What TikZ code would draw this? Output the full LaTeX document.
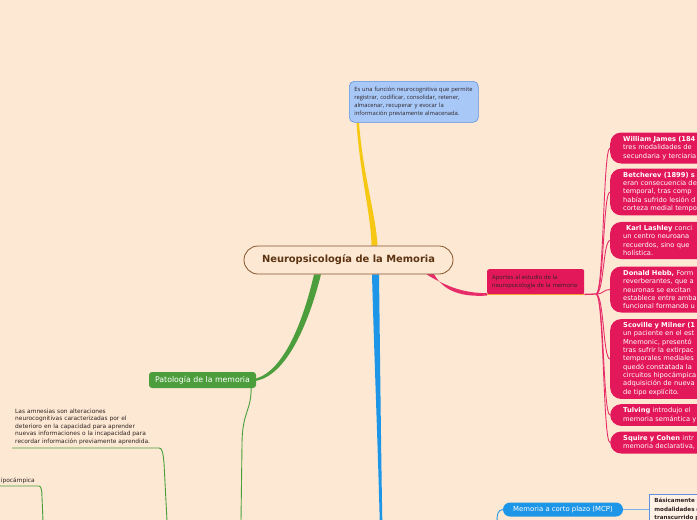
\documentclass[tikz,border=0pt]{standalone}
\usepackage{fontspec}
\setmainfont{DejaVu Sans}
\newfontfamily\osans{Open Sans}
\usetikzlibrary{calc}
\pgfdeclarelayer{bglayer}
\pgfdeclarelayer{connlayer}
\pgfsetlayers{bglayer,connlayer,main}
\definecolor{bg}{RGB}{253,232,211}
\definecolor{brownc}{RGB}{132,84,42}
\definecolor{browntext}{RGB}{92,52,18}
\definecolor{pinkc}{RGB}{226,24,91}
\definecolor{pinkl}{RGB}{230,45,105}
\definecolor{bluebox}{RGB}{168,200,248}
\definecolor{blueedge}{RGB}{95,145,225}
\definecolor{yellowc}{RGB}{246,200,20}
\definecolor{greenc}{RGB}{76,158,60}
\definecolor{greenl}{RGB}{72,160,58}
\definecolor{bluec}{RGB}{30,150,232}
\definecolor{bluelight}{RGB}{120,180,235}
\definecolor{orangec}{RGB}{242,160,40}
\definecolor{darktext}{RGB}{45,35,35}
\tikzset{
  rbox/.style={fill=pinkc, rounded corners=11pt, anchor=west, text width=150pt,
    inner xsep=13pt, inner ysep=3.5pt, align=left, text=white,
    font=\fontsize{6.7}{8.3}\selectfont},
  pinkconn/.style={pinkl, line width=0.9pt},
  greenconn/.style={greenl, line width=0.9pt},
}
\begin{document}
\begin{tikzpicture}[x=1pt,y=-1pt]
\begin{pgfonlayer}{bglayer}
\fill[bg] (0,0) rectangle (697,520);
\end{pgfonlayer}
\useasboundingbox (0,0) rectangle (697,520);

% nodes
\node[draw=brownc, line width=0.8pt, fill=bg, rounded corners=14pt,
  minimum width=209pt, minimum height=28pt, inner sep=0,
  font=\fontsize{9.9}{11}\selectfont\bfseries, text=browntext] (root) at (348.5,260) {Neuropsicología de la Memoria};

\node[anchor=north west, draw=blueedge, line width=0.6pt, fill=bluebox, rounded corners=5pt,
  minimum width=129pt, minimum height=41pt, text width=119pt, inner xsep=5pt,
  align=left, font=\osans\fontsize{5.8}{8}\selectfont, text=darktext] (def) at (349,81)
  {\mbox{Es una función neurocognitiva que permite}\\\mbox{registrar, codificar, consolidar, retener,}\\\mbox{almacenar, recuperar y evocar la}\\\mbox{información previamente almacenada.}};

\node[anchor=north west, fill=pinkc, rounded corners=2pt, minimum width=97pt,
  minimum height=25pt, text width=87pt, inner xsep=5pt, align=left,
  font=\osans\fontsize{5.8}{8}\selectfont, text=darktext] (ap) at (487,269)
  {\mbox{Aportes al estudio de la}\\\mbox{neuropsicología de la memoria}};

\node[fill=greenc, rounded corners=3pt, minimum width=107pt, minimum height=16pt,
  inner sep=0, font=\fontsize{7.8}{9}\selectfont, text=white] (pat) at (202.5,380) {Patología de la memoria};

\node[fill=bluec, rounded corners=7pt, minimum width=120pt, minimum height=14pt,
  inner sep=0, font=\fontsize{6.9}{8}\selectfont, text=white] (mcp) at (563,509.5) {Memoria a corto plazo (MCP)};

\node[anchor=north west, draw=blueedge, line width=0.7pt, fill=bg!60!white,
  text width=70pt, inner xsep=5pt, inner ysep=4pt, align=left,
  font=\fontsize{5.6}{8.5}\selectfont\bfseries, text=darktext] (mcpd) at (649,494)
  {Básicamente p\\modalidades d\\transcurrido p\\\mbox{}};

\node[anchor=south west, text width=150pt, inner xsep=3pt, inner ysep=3pt, align=left,
  font=\fontsize{5.9}{7.6}\selectfont, text=darktext] (amn) at (12,448)
  {\mbox{Las amnesias son alteraciones}\\\mbox{neurocognitivas caracterizadas por el}\\\mbox{deterioro en la capacidad para aprender}\\\mbox{nuevas informaciones o la incapacidad para}\\\mbox{recordar información previamente aprendida.}};

\node[anchor=south east, inner xsep=4pt, inner ysep=2.5pt,
  font=\fontsize{5.9}{7.6}\selectfont, text=darktext] (hip) at (39,486) {ipocámpica};

% right pink boxes
\node[rbox, minimum height=31pt] (b1) at (610,148)
  {\textbf{William James (184}\\tres modalidades de\\secundaria y terciaria};
\node[rbox, minimum height=46pt] (b2) at (610,192)
  {\textbf{Betcherev (1899) s}\\eran consecuencia de\\temporal, tras comp\\había sufrido lesión d\\corteza medial tempo};
\node[rbox, minimum height=36pt] (b3) at (610,240.5)
  {\hspace*{3pt}\textbf{Karl Lashley} conci\\un centro neuroana\\recuerdos, sino que\\holística.};
\node[rbox, minimum height=46pt] (b4) at (610,289.5)
  {\textbf{Donald Hebb,} Form\\reverberantes, que a\\neuronas se excitan\\establece entre amba\\funcional formando u};
\node[rbox, minimum height=78pt] (b5) at (610,359)
  {\textbf{Scoville y Milner (1}\\un paciente en el est\\Mnemonic, presentó\\tras sufrir la extirpac\\temporales mediales\\quedó constatada la\\circuitos hipocámpica\\adquisición de nueva\\de tipo explícito.};
\node[rbox, minimum height=21pt] (b6) at (610,415)
  {\textbf{Tulving} introdujo el\\memoria semántica y};
\node[rbox, minimum height=22pt] (b7) at (610,442.5)
  {\textbf{Squire y Cohen} intr\\memoria declarativa,};

% free ends
\coordinate (br) at (596,294);
\coordinate (bluedown) at (381,520);
\coordinate (greendown) at (241,521);
\coordinate (amndown) at (167,521);
\coordinate (hipdown) at (43,521);
\coordinate (mcpdown) at (497,521);

\begin{pgfonlayer}{connlayer}
% yellow (tapered)
\fill[yellowc] ($(root.north)+(23,0)$) .. controls (371,215) and (360,175) .. ($(def.south west)+(7.5,0)$)
  -- ($(def.south west)+(10,0)$) .. controls (363,175) and (376,215) .. ($(root.north)+(29,0)$) -- cycle;
% blue (tapered)
\fill[bluec] ($(root.south)+(23.5,0)$) .. controls (374,350) and (378,450) .. ($(bluedown)+(-1.3,0)$)
  -- ($(bluedown)+(1.3,0)$) .. controls (381,450) and (380,350) .. ($(root.south)+(30.5,0)$) -- cycle;
% green (tapered)
\fill[greenc] ($(root.south)+(-34.5,0)$) .. controls (303,322) and (284,370) .. ($(pat.east)+(0,-1.5)$)
  -- ($(pat.east)+(0,0.8)$) .. controls (286,375) and (308,326) .. ($(root.south)+(-27.5,0)$) -- cycle;
% pink (tapered)
\fill[pinkl] ($(root.south)+(78,0)$) .. controls (449,288) and (465,293) .. ($(ap.south west)+(0,-1.2)$)
  -- ($(ap.south west)+(0,1.2)$) .. controls (462,297) and (444,292) .. ($(root.south)+(85,-1)$) -- cycle;

% pink branches
\draw[pinkl, line width=1.3pt] (ap.south east) -- (br);
\foreach \b in {b1,b2,b3,b4,b5,b6,b7}{
  \draw[pinkconn] (br) .. controls (604,294) and ($(\b.west)+(-7,0)$) .. (\b.west);
}

% green thin
\draw[greenconn] ($(pat.south east)+(-5,0)$) .. controls (251,412) and (242,412) .. (242,445) -- (greendown);
\draw[greenconn] (amn.south west) -- ($(amn.south west)+(147,0)$)
  .. controls (162,448) and (163,452) .. (164,463) -- (amndown);
\draw[greenconn] ($(hip.south east)+(-45,0)$) -- (hip.south east)
  .. controls (41,486) and (42,490) .. (42,497) -- (hipdown);

% blue thin
\draw[bluec, line width=0.9pt] (mcp.west) .. controls (498,510) and (497,514) .. (mcpdown);
\draw[bluelight, line width=1.8pt] (mcp.east) -- (mcp.east -| mcpd.west);
\end{pgfonlayer}

% orange underline
\draw[orangec, line width=1.6pt] (ap.south west) -- (ap.south east);
\end{tikzpicture}
\end{document}
